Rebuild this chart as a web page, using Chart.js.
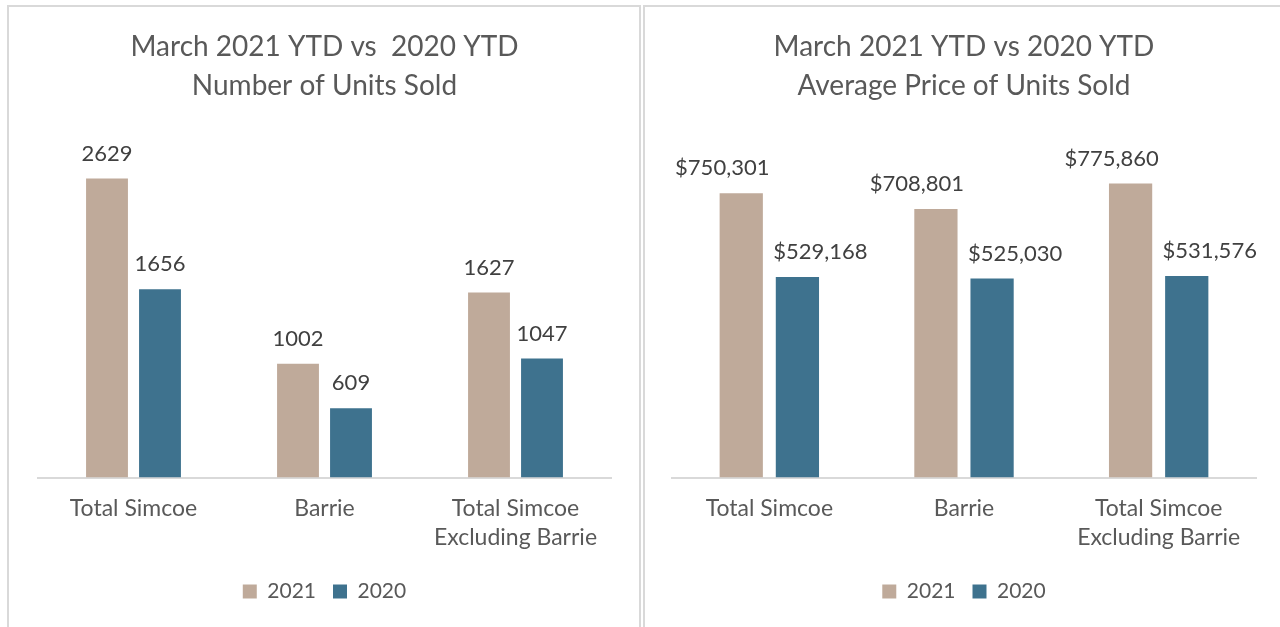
<!DOCTYPE html>
<html>
<head>
<meta charset="utf-8">
<script src="https://cdn.jsdelivr.net/npm/chart.js@4"></script>
<style>
  body { margin: 0; background: #fff; width: 1280px; height: 627px; overflow: hidden; position: relative; }
  .panel { position: absolute; border: 2px solid #d9d9d9; box-sizing: border-box; background: #fff; }
  #p1 { left: 7px; top: 5px; width: 634px; height: 640px; }
  #p2 { left: 643px; top: 5px; width: 645px; height: 640px; }
  canvas { position: absolute; left: 0; top: 0; }
</style>
</head>
<body>
<div class="panel" id="p1"><canvas id="unitsChart" width="630" height="620"></canvas></div>
<div class="panel" id="p2"><canvas id="priceChart" width="637" height="620"></canvas></div>
<script>
var categories = ['Total Simcoe', 'Barrie', ['Total Simcoe', 'Excluding Barrie']];
var seriesNames = ['2021', '2020'];
var units2021 = [2629, 1002, 1627];
var units2020 = [1656, 609, 1047];
var price2021 = [750301, 708801, 775860];
var price2020 = [529168, 525030, 531576];

var col2021 = '#bfaa9a';
var col2020 = '#3e728e';
var textCol = '#595959';
var fontFam = 'Lato, "Open Sans", sans-serif';

// draws the value above each bar (shift = sideways nudge per dataset)
var valueLabels = {
  id: 'valueLabels',
  afterDatasetsDraw: function (chart, args, opts) {
    var c = chart.ctx;
    c.save();
    c.font = '22px ' + fontFam;
    c.fillStyle = '#404040';
    c.textAlign = 'center';
    c.textBaseline = 'middle';
    chart.data.datasets.forEach(function (ds, i) {
      chart.getDatasetMeta(i).data.forEach(function (bar, j) {
        c.fillText(opts.format(ds.data[j]), bar.x + opts.shift[i], bar.y - 25);
      });
    });
    c.restore();
  }
};

function makeChart(id, title, d1, d2, yMax, fmt, shift, pad, catPct, barPct) {
  var ctx = document.getElementById(id).getContext('2d');
  return new Chart(ctx, {
    type: 'bar',
    data: {
      labels: categories,
      datasets: [{
        label: seriesNames[0],
        data: d1,
        backgroundColor: col2021,
        borderWidth: 0,
        categoryPercentage: catPct,
        barPercentage: barPct
      }, {
        label: seriesNames[1],
        data: d2,
        backgroundColor: col2020,
        borderWidth: 0,
        categoryPercentage: catPct,
        barPercentage: barPct
      }]
    },
    options: {
      responsive: false,
      animation: false,
      layout: { padding: pad },
      scales: {
        x: {
          grid: { display: false },
          border: { color: '#d9d9d9', width: 2 },
          ticks: { color: textCol, font: { size: 23, family: fontFam, lineHeight: 1.27 }, padding: 8, maxRotation: 0 },
          afterFit: function (s) { s.height += 4; }
        },
        y: { display: false, min: 0, max: yMax }
      },
      plugins: {
        title: {
          display: true,
          text: title,
          color: textCol,
          font: { size: 28, family: fontFam, weight: 'normal', lineHeight: 1.4 },
          padding: { top: 20, bottom: 31 }
        },
        legend: {
          position: 'bottom',
          labels: {
            color: textCol,
            font: { size: 21, family: fontFam },
            boxWidth: 14,
            boxHeight: 14,
            padding: 17
          }
        },
        tooltip: { enabled: false },
        valueLabels: { format: fmt, shift: shift }
      }
    },
    plugins: [valueLabels]
  });
}

makeChart('unitsChart', ['March 2021 YTD vs  2020 YTD', 'Number of Units Sold'],
  units2021, units2020, 3000,
  function (v) { return String(v); }, [0, 0],
  { left: 29, right: 28, bottom: 15 }, 0.555, 0.79);

makeChart('priceChart', ['March 2021 YTD vs 2020 YTD', 'Average Price of Units Sold'],
  price2021, price2020, 900000,
  function (v) { return '$' + v.toLocaleString('en-US'); }, [-19, 23],
  { left: 27, right: 26, bottom: 15 }, 0.577, 0.77);
</script>
</body>
</html>
